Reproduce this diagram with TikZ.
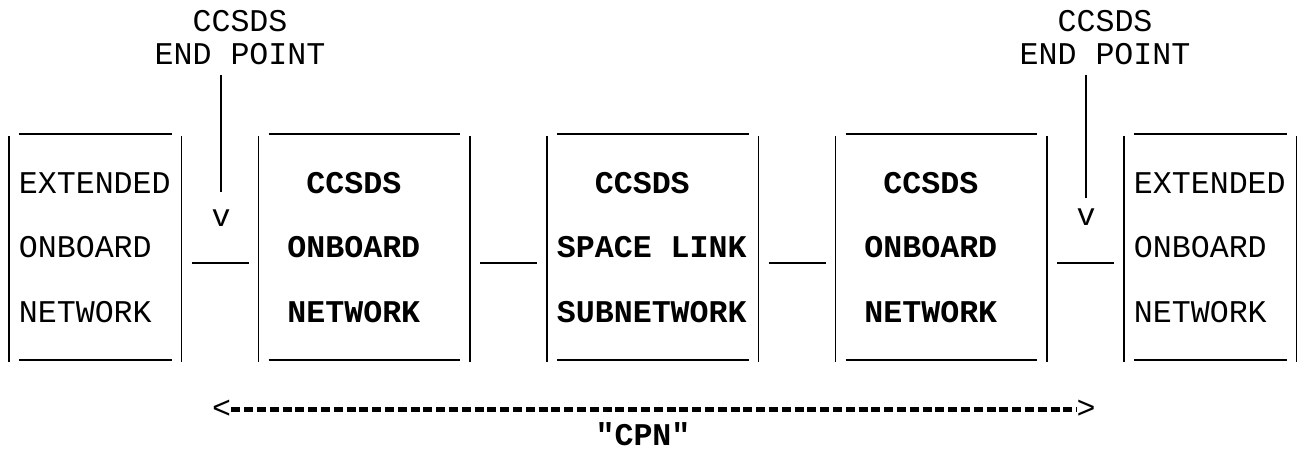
\documentclass[tikz,border=0pt]{standalone}
\usepackage{fontspec}
\setmainfont{Liberation Mono}[Ligatures=TeXOff]
\usetikzlibrary{positioning}

\begin{document}
\begin{tikzpicture}[node distance=1.54cm,
    netbox/.style={rectangle, inner sep=0pt, outer sep=0pt, minimum height=4.52cm},
    outerbox/.style={netbox, minimum width=3.45cm},
    innerbox/.style={netbox, minimum width=4.23cm},
    boxtext/.style={inner sep=0pt, align=left, anchor=west, font=\fontsize{18}{36.7}\selectfont},
    boldtext/.style={boxtext, font=\fontsize{18}{36.7}\selectfont\bfseries},
    eplabel/.style={inner sep=0pt, align=center, font=\fontsize{18}{18.7}\selectfont},
    glyph/.style={inner sep=0pt, font=\fontsize{18}{18}\selectfont},
    rule/.style={line width=0.9pt},
    span/.style={line width=2.4pt, dash pattern=on 0.18cm off 0.076cm}]

    \useasboundingbox (0,0) rectangle (25.96,9);

    % --- Network boxes ---
    \node[outerbox] (ext1) at (1.905,4.02) {};
    \node[innerbox] (onb1) [right=of ext1] {};
    \node[innerbox] (spl) [right=of onb1] {};
    \node[innerbox] (onb2) [right=of spl] {};
    \node[outerbox] (ext2) [right=of onb2] {};

    \foreach \b in {ext1,onb1,spl,onb2,ext2} {
        \draw[rule] (\b.north west) -- (\b.south west);
        \draw[rule] (\b.north east) -- (\b.south east);
        \draw[rule] ([shift={(0.2,0.04)}]\b.north west) -- ([shift={(-0.2,0.04)}]\b.north east);
        \draw[rule] ([shift={(0.2,0.04)}]\b.south west) -- ([shift={(-0.2,0.04)}]\b.south east);
    }

    % --- Box texts ---
    \node[boxtext] (ext1txt) at ([shift={(0.19,0.03)}]ext1.west) {EXTENDED\\ONBOARD\\NETWORK};
    \node[boldtext] (onb1txt) at ([shift={(0.57,0.03)}]onb1.west) {\hphantom{C}CCSDS\\ONBOARD\\NETWORK};
    \node[boldtext] (spltxt) at ([shift={(0.19,0.03)}]spl.west) {\hphantom{CC}CCSDS\\SPACE LINK\\SUBNETWORK};
    \node[boldtext] (onb2txt) at ([shift={(0.57,0.03)}]onb2.west) {\hphantom{C}CCSDS\\ONBOARD\\NETWORK};
    \node[boxtext] (ext2txt) at ([shift={(0.19,0.03)}]ext2.west) {EXTENDED\\ONBOARD\\NETWORK};

    % --- Links between boxes ---
    \foreach \a/\b in {ext1/onb1, onb1/spl, spl/onb2, onb2/ext2}
        \draw[rule] ([shift={(0.2,-0.28)}]\a.east) -- ([shift={(-0.2,-0.28)}]\b.west);

    % --- End points ---
    \node[eplabel] (ep1) at (4.8,8.24) {CCSDS\\END POINT};
    \node[eplabel] (ep2) at (22.1,8.24) {CCSDS\\END POINT};
    \node[glyph] (v1) at (4.42,4.64) {v};
    \node[glyph] (v2) at (21.72,4.66) {v};
    \draw[rule, shorten <=0.18cm] (ep1.south -| v1.north) -- ([yshift=0.34cm]v1.north);
    \draw[rule, shorten <=0.18cm] (ep2.south -| v2.north) -- ([yshift=0.2cm]v2.north);

    % --- CPN span ---
    \node[glyph] (lt) at (4.43,0.81) {<};
    \node[glyph] (gt) at (21.72,0.81) {>};
    \draw[span] (lt) -- (gt);
    \node[glyph, font=\fontsize{18}{18}\selectfont\bfseries, anchor=base] (cpn) at (12.86,0.1) {"CPN"};

\end{tikzpicture}
\end{document}
